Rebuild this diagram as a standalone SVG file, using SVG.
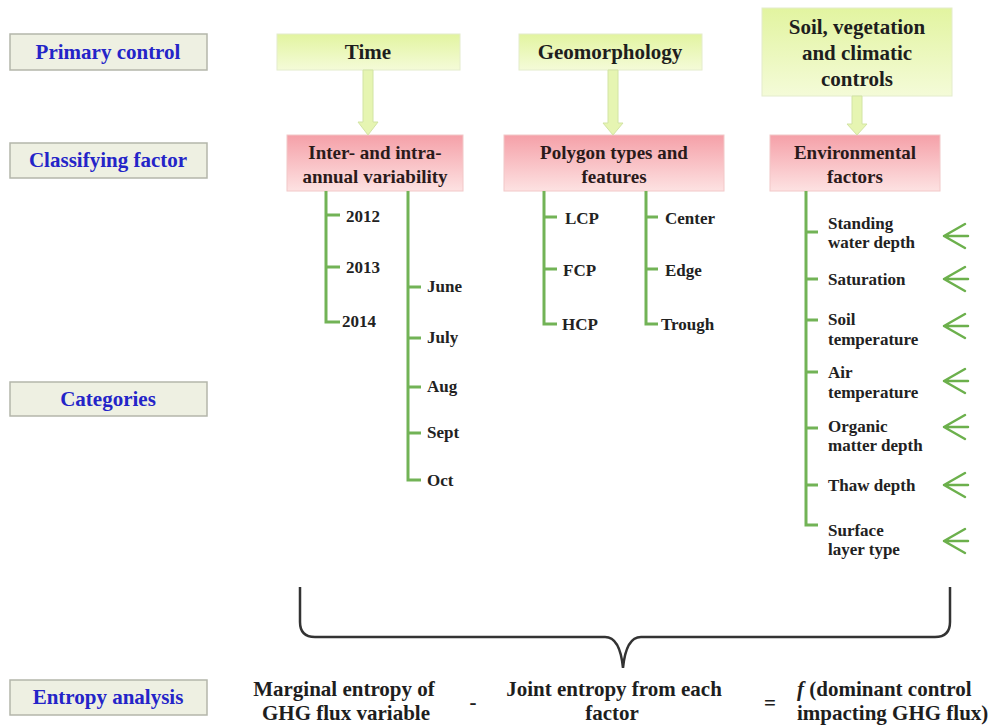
<svg xmlns="http://www.w3.org/2000/svg" width="994" height="726" viewBox="0 0 994 726">
<defs>
<linearGradient id="gGreen" x1="0" y1="0" x2="0" y2="1"><stop offset="0" stop-color="#e2f4a0"/><stop offset="1" stop-color="#f4fbd8"/></linearGradient>
<linearGradient id="gPink" x1="0" y1="0" x2="0" y2="1"><stop offset="0" stop-color="#f5a0a8"/><stop offset="1" stop-color="#fde2e2"/></linearGradient>
<style>
.lab rect{fill:#eef0e2;stroke:#b4b6aa;stroke-width:1.5}
.lab text{font-family:"Liberation Serif",serif;font-weight:bold;font-size:21px;fill:#2424c8;text-anchor:middle}
.prim rect{fill:url(#gGreen);stroke:#e4eccc;stroke-width:1}
.cls rect{fill:url(#gPink);stroke:#f2c8c8;stroke-width:1}
.hd{font-family:"Liberation Serif",serif;font-weight:bold;font-size:21px;fill:#1e1e1e;text-anchor:middle}
.cf{font-family:"Liberation Serif",serif;font-weight:bold;font-size:19px;fill:#2a1a1a;text-anchor:middle}
.it{font-family:"Liberation Serif",serif;font-weight:bold;font-size:17px;fill:#222}
.br{fill:none;stroke:#72b356;stroke-width:3}
.ar{fill:#e6f5b2;stroke:#d2e4a4;stroke-width:1}
.ch{fill:none;stroke:#6cb04c;stroke-width:2.5;stroke-linecap:round;stroke-linejoin:round}
.brace{fill:none;stroke:#333;stroke-width:2.5}
.eq{font-family:"Liberation Serif",serif;font-weight:bold;font-size:21px;fill:#1e1e1e;text-anchor:middle}
</style>
</defs>
<rect width="994" height="726" fill="#fff"/>

<g id="label-primary" class="lab"><rect x="10" y="34" width="197" height="36"/><text x="108" y="59">Primary control</text></g>
<g id="label-classifying" class="lab"><rect x="10" y="143" width="197" height="35"/><text x="108" y="167">Classifying factor</text></g>
<g id="label-categories" class="lab"><rect x="10" y="382" width="197" height="34"/><text x="108" y="406">Categories</text></g>
<g id="label-entropy" class="lab"><rect x="10" y="680" width="197" height="35"/><text x="108" y="704">Entropy analysis</text></g>

<g id="time" class="prim"><rect x="277" y="34" width="183" height="36"/><text class="hd" x="368" y="59">Time</text></g>
<g id="geomorphology" class="prim"><rect x="519" y="34" width="183" height="36"/><text class="hd" x="610" y="59">Geomorphology</text></g>
<g id="soil" class="prim"><rect x="762" y="8" width="190" height="88"/><text class="hd" x="857" y="34">Soil, vegetation</text><text class="hd" x="857" y="60">and climatic</text><text class="hd" x="857" y="86">controls</text></g>

<g id="interannual" class="cls"><rect x="287" y="135" width="176" height="56"/><text class="cf" x="375" y="159">Inter- and intra-</text><text class="cf" x="375" y="183">annual variability</text></g>
<g id="polygon" class="cls"><rect x="504" y="135" width="220" height="56"/><text class="cf" x="614" y="159">Polygon types and</text><text class="cf" x="614" y="183">features</text></g>
<g id="environmental" class="cls"><rect x="770" y="135" width="170" height="56"/><text class="cf" x="855" y="159">Environmental</text><text class="cf" x="855" y="183">factors</text></g>

<g id="connectors">
<path class="ar" d="M363,70 L373,70 L373,122 L378,122 L368,135 L358,122 L363,122 Z"/>
<path class="ar" d="M608,70 L618,70 L618,123 L623,123 L613,135 L603,123 L608,123 Z"/>
<path class="ar" d="M852,96 L862,96 L862,124 L867,124 L857,135 L847,124 L852,124 Z"/>
<path class="br" d="M326,191 V322 H340 M326,215 H340 M326,267 H340"/>
<path class="br" d="M408,191 V480 H421 M408,287 H421 M408,338 H421 M408,387 H421 M408,433 H421"/>
<path class="br" d="M544,191 V324 H557 M544,217 H557 M544,269 H557"/>
<path class="br" d="M646,191 V324 H658 M646,217 H658 M646,269 H658"/>
<path class="br" d="M806,191 V525 H818 M806,232 H818 M806,279 H818 M806,320 H818 M806,372 H818 M806,428 H818 M806,485 H818"/>
<path class="ch" d="M965,224 L944,236 L965,248 M944,236 H968"/>
<path class="ch" d="M965,267 L944,279 L965,291 M944,279 H968"/>
<path class="ch" d="M965,314 L944,326 L965,338 M944,326 H968"/>
<path class="ch" d="M965,369 L944,381 L965,393 M944,381 H968"/>
<path class="ch" d="M965,415 L944,427 L965,439 M944,427 H968"/>
<path class="ch" d="M965,473 L944,485 L965,497 M944,485 H968"/>
<path class="ch" d="M965,529 L944,541 L965,553 M944,541 H968"/>
<path class="brace" d="M300,587 L300,622 Q300,637 315,637 L605,637 Q620,637 623,668 Q626,637 641,637 L935,637 Q950,637 950,622 L950,587"/>
</g>

<g id="years">
<text class="it" x="346" y="222">2012</text>
<text class="it" x="346" y="273">2013</text>
<text class="it" x="342" y="327">2014</text>
</g>
<g id="months">
<text class="it" x="427" y="292">June</text>
<text class="it" x="427" y="343">July</text>
<text class="it" x="427" y="392">Aug</text>
<text class="it" x="427" y="438">Sept</text>
<text class="it" x="427" y="486">Oct</text>
</g>
<g id="polygon-types">
<text class="it" x="565" y="224">LCP</text>
<text class="it" x="563" y="276">FCP</text>
<text class="it" x="562" y="330">HCP</text>
</g>
<g id="features">
<text class="it" x="665" y="224">Center</text>
<text class="it" x="665" y="276">Edge</text>
<text class="it" x="661" y="330">Trough</text>
</g>
<g id="env-factors">
<text class="it" x="828" y="229">Standing</text><text class="it" x="828" y="248">water depth</text>
<text class="it" x="828" y="285">Saturation</text>
<text class="it" x="828" y="325">Soil</text><text class="it" x="828" y="345">temperature</text>
<text class="it" x="828" y="378">Air</text><text class="it" x="828" y="398">temperature</text>
<text class="it" x="828" y="432">Organic</text><text class="it" x="828" y="451">matter depth</text>
<text class="it" x="828" y="491">Thaw depth</text>
<text class="it" x="828" y="536">Surface</text><text class="it" x="828" y="555">layer type</text>
</g>

<g id="entropy-equation">
<text class="eq" x="344" y="696">Marginal entropy of</text>
<text class="eq" x="346" y="720">GHG flux variable</text>
<text class="eq" x="473" y="709">-</text>
<text class="eq" x="614" y="696">Joint entropy from each</text>
<text class="eq" x="612" y="720">factor</text>
<text class="eq" x="770" y="710">=</text>
<text class="eq" x="797" y="696" style="text-anchor:start"><tspan font-style="italic">f</tspan> (dominant control</text>
<text class="eq" x="797" y="720" style="text-anchor:start">impacting GHG flux)</text>
</g>
</svg>
